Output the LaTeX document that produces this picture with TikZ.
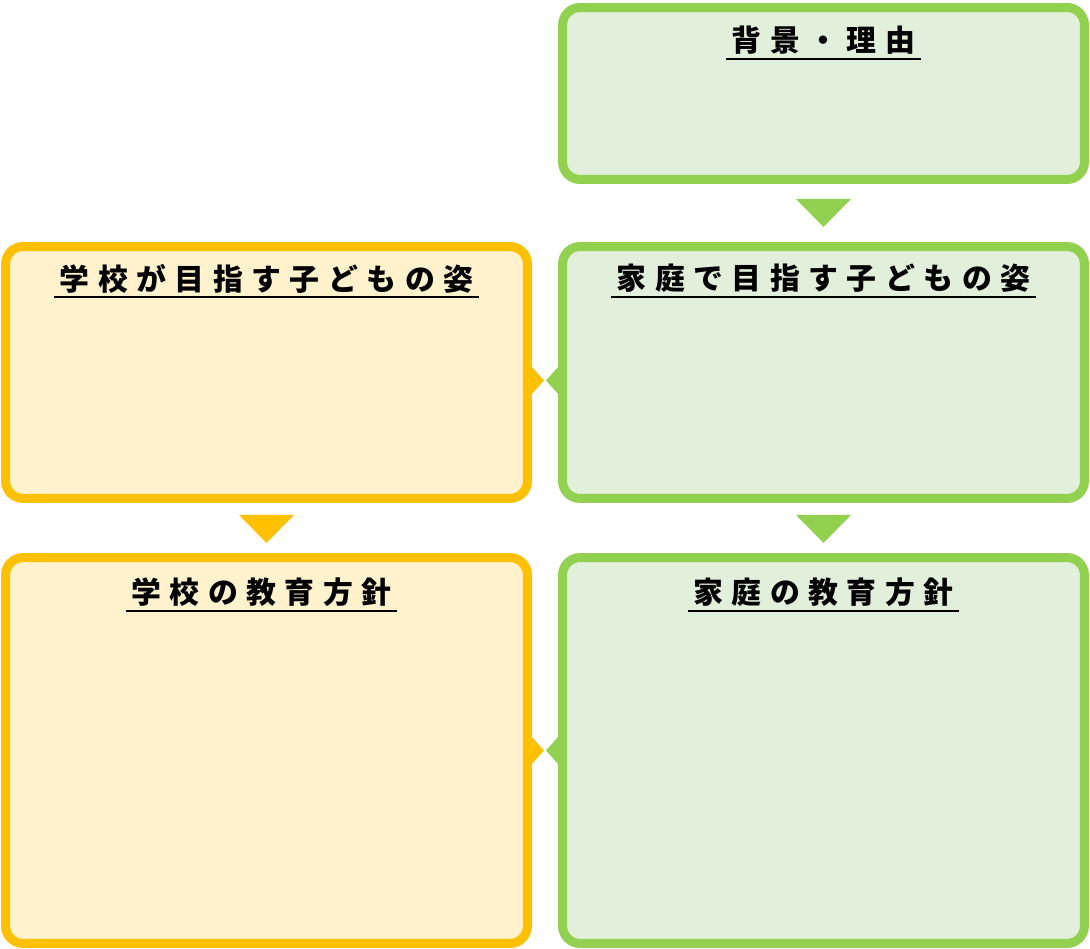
\documentclass[tikz,border=0pt]{standalone}
\usepackage{fontspec}
\newfontfamily\jpfont{Noto Sans CJK JP}
\usepackage{tikz}
\usetikzlibrary{calc}

\definecolor{leafline}{HTML}{92D050}
\definecolor{leaffill}{HTML}{E2EFDA}
\definecolor{goldline}{HTML}{FFC000}
\definecolor{goldfill}{HTML}{FFF2CC}

\def\tracked#1{\trackedfirst#1\relax}
\def\trackedfirst#1{#1\trackedrest}
\def\trackedrest#1{\ifx#1\relax\else\kern0.17cm#1\expandafter\trackedrest\fi}

\tikzset{
  panel/.style={draw, line width=0.18cm, rounded corners=0.35cm, minimum width=10.44cm, inner sep=0pt, outer sep=0pt},
  homepanel/.style={panel, draw=leafline, fill=leaffill},
  schoolpanel/.style={panel, draw=goldline, fill=goldfill},
  heading/.style={font=\jpfont\bfseries\fontsize{17}{17}\selectfont, inner sep=0pt, anchor=north},
  uline/.style={line width=0.04cm}
}

\begin{document}
\begin{tikzpicture}[x=0.02cm, y=-0.02cm]
    \useasboundingbox (0,0) rectangle (1090,949);
    \node[homepanel, minimum height=3.44cm] (bg) at (823.5,93.5) {};
    \node[homepanel, minimum height=5.04cm] (homegoal) at (823.5,372.5) {};
    \node[schoolpanel, minimum height=5.04cm] (schoolgoal) at (266.5,372.5) {};
    \node[homepanel, minimum height=7.72cm] (homepolicy) at (823.5,750.5) {};
    \node[schoolpanel, minimum height=7.72cm] (schoolpolicy) at (266.5,750.5) {};

    \node[heading] (bgtitle) at ($(bg.north)+(0,18)$) {\tracked{背景・理由}};
    \node[heading] (homegoaltitle) at ($(homegoal.north)+(0,17)$) {\tracked{家庭で目指す子どもの姿}};
    \node[heading] (schoolgoaltitle) at ($(schoolgoal.north)+(0,17)$) {\tracked{学校が目指す子どもの姿}};
    \node[heading] (homepolicytitle) at ($(homepolicy.north)+(0,20)$) {\tracked{家庭の教育方針}};
    \node[heading] (schoolpolicytitle) at ($(schoolpolicy.north)+(-5,20)$) {\tracked{学校の教育方針}};
    \foreach \t in {bgtitle,homegoaltitle,schoolgoaltitle,homepolicytitle,schoolpolicytitle}
        \draw[uline] ($(\t.south west)+(-5,4)$) -- ($(\t.south east)+(5,4)$);

    \fill[leafline] ($(bg.south)+(-27.5,19.5)$) -- ($(bg.south)+(27.5,19.5)$) -- ($(bg.south)+(0,47.5)$) -- cycle;
    \fill[leafline] ($(homegoal.south)+(-27.5,16.5)$) -- ($(homegoal.south)+(27.5,16.5)$) -- ($(homegoal.south)+(0,44.5)$) -- cycle;
    \fill[goldline] ($(schoolgoal.south)+(-27.5,16.5)$) -- ($(schoolgoal.south)+(27.5,16.5)$) -- ($(schoolgoal.south)+(0,44.5)$) -- cycle;

    \fill[goldline] ($(schoolgoal.east)+(0,-10.5)$) -- ($(schoolgoal.east)+(16.5,8)$) -- ($(schoolgoal.east)+(0,26.5)$) -- cycle;
    \fill[leafline] ($(homegoal.west)+(0,-10.5)$) -- ($(homegoal.west)+(-16.5,8)$) -- ($(homegoal.west)+(0,26.5)$) -- cycle;
    \fill[goldline] ($(schoolpolicy.east)+(0,-18.5)$) -- ($(schoolpolicy.east)+(16.5,0)$) -- ($(schoolpolicy.east)+(0,18.5)$) -- cycle;
    \fill[leafline] ($(homepolicy.west)+(0,-18.5)$) -- ($(homepolicy.west)+(-16.5,0)$) -- ($(homepolicy.west)+(0,18.5)$) -- cycle;
\end{tikzpicture}
\end{document}
